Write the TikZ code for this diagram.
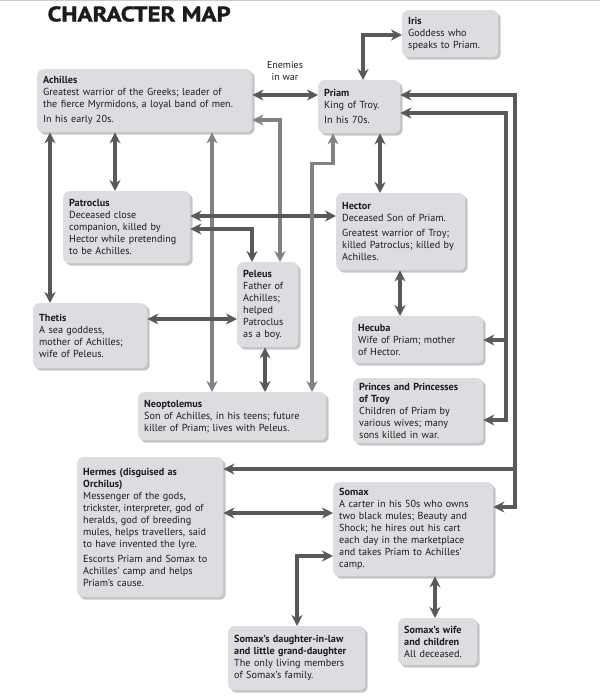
\documentclass[tikz,border=0pt]{standalone}
\usepackage{fontspec}
\setmainfont{PT Sans}
\newfontfamily\mapheadfont[FakeBold=1.5,FakeStretch=1.18]{PT Sans Bold}
\usepackage{tikz}
\usetikzlibrary{arrows.meta,shadows}
\usepackage{xcolor}
\definecolor{boxGray}{RGB}{220,221,224}
\definecolor{tieDark}{RGB}{88,89,91}
\definecolor{tieGray}{RGB}{128,130,133}
\definecolor{inkBlack}{RGB}{30,27,28}

\begin{document}
\begin{tikzpicture}[
  x=1pt,y=-1pt,
  every node/.style={text=inkBlack},
  character/.style={fill=boxGray,rounded corners=6pt,anchor=north west,align=left,
    inner xsep=6pt,inner ysep=3pt,font=\fontsize{10.2}{12}\selectfont,
    drop shadow={shadow xshift=2.5pt,shadow yshift=-2.5pt,fill=black!45}},
  mapTitle/.style={anchor=west,font=\mapheadfont\fontsize{21}{21}\selectfont},
  tieLine/.style={draw=tieDark,line width=4pt,>={Stealth[length=11pt,width=11pt,inset=3.5pt]}},
  tieLight/.style={tieLine,draw=tieGray,line width=3.5pt}]

  \useasboundingbox (0,0) rectangle (600,700);
  \fill[black!20] (0,0) rectangle (600,1.5);

  \node[mapTitle] (mapName) at (44,14) {CHARACTER MAP};

  % Position the characters
  \node[character,text width=203pt,minimum height=63pt] (achilles) at (37,69)
    {\textbf{Achilles}\\Greatest warrior of the Greeks; leader of\\the fierce Myrmidons, a loyal band of men.\\[3pt]In his early 20s.};
  \node[character,text width=84pt,minimum height=47pt] (iris) at (402,10)
    {\textbf{Iris}\\Goddess who\\speaks to Priam.};
  \node[character,text width=70pt,minimum height=53pt] (priam) at (318,80)
    {\textbf{Priam}\\King of Troy.\\[3pt]In his 70s.};
  \node[character,text width=115pt,minimum height=72pt] (patroclus) at (63,191)
    {\textbf{Patroclus}\\Deceased close\\companion, killed by\\Hector while pretending\\to be Achilles.};
  \node[character,text width=117pt,minimum height=77pt] (hector) at (336,193)
    {\textbf{Hector}\\Deceased Son of Priam.\\[3pt]Greatest warrior of Troy;\\killed Patroclus; killed by\\Achilles.};
  \node[character,text width=49pt,minimum height=85pt] (peleus) at (237,262)
    {\textbf{Peleus}\\Father of\\Achilles;\\helped\\Patroclus\\as a boy.};
  \node[character,text width=102pt,minimum height=65pt] (thetis) at (33,303)
    {\textbf{Thetis}\\A sea goddess,\\mother of Achilles;\\wife of Peleus.};
  \node[character,text width=119pt,minimum height=47pt] (hecuba) at (352,316)
    {\textbf{Hecuba}\\Wife of Priam; mother\\of Hector.};
  \node[character,text width=118pt,minimum height=65pt] (princes) at (353,378)
    {\textbf{Princes and Princesses}\\\textbf{of Troy}\\Children of Priam by\\various wives; many\\sons killed in war.};
  \node[character,text width=176pt,minimum height=48pt] (neoptolemus) at (138,392)
    {\textbf{Neoptolemus}\\Son of Achilles, in his teens; future\\killer of Priam; lives with Peleus.};
  \node[character,text width=134pt,minimum height=140pt] (hermes) at (77,457)
    {\textbf{Hermes (disguised as}\\\textbf{Orchilus)}\\Messenger of the gods,\\trickster, interpreter, god of\\heralds, god of breeding\\mules, helps travellers, said\\to have invented the lyre.\\[3pt]Escorts Priam and Somax to\\Achilles' camp and helps\\Priam's cause.};
  \node[character,text width=148pt,minimum height=94pt] (somax) at (333,482)
    {\textbf{Somax}\\A carter in his 50s who owns\\two black mules; Beauty and\\Shock; he hires out his cart\\each day in the marketplace\\and takes Priam to Achilles'\\camp.};
  \node[character,text width=125pt,minimum height=64pt] (daughter) at (228,626)
    {\textbf{Somax's daughter-in-law}\\\textbf{and little grand-daughter}\\The only living members\\of Somax's family.};
  \node[character,text width=67pt,minimum height=47pt] (wife) at (398,618)
    {\textbf{Somax's wife}\\\textbf{and children}\\All deceased.};

  \node[align=center,font=\fontsize{10}{12}\selectfont] (enemies) at (285,71) {Enemies\\in war};

  % where the long lines split
  \coordinate (houseTrunk) at (506,420);
  \coordinate (hecubaTap) at (506,340);
  \coordinate (envoyTrunk) at (515,507);
  \coordinate (hermesTap) at (515,469);

  % Achilles to the others
  \draw[tieLine,<->] (achilles.east |- 0,95) -- (priam.west |- 0,95);
  \draw[tieLine,<->] (achilles.south -| 115,0) -- (patroclus.north -| 115,0);
  \draw[tieLine,<->] (achilles.south -| 50,0) -- (thetis.north -| 50,0);
  \draw[tieLight,<->] (achilles.south -| 212,0) -- (neoptolemus.north -| 212,0);
  \draw[tieLight,<->] (achilles.east |- 0,120) -| (peleus.north -| 280,0);

  % Patroclus, Thetis, Peleus
  \draw[tieLine,<->] (patroclus.east |- 0,216) -- (hector.west |- 0,216);
  \draw[tieLine,<->] (patroclus.east |- 0,229) -| (peleus.north -| 252,0);
  \draw[tieLine,<->] (thetis.east |- 0,319) -- (peleus.west |- 0,319);
  \draw[tieLine,<->] (peleus.south -| 265,0) -- (neoptolemus.north -| 265,0);

  % Priam to the others
  \draw[tieLine,<->] (priam.north -| 363,0) |- (iris.west |- 0,35);
  \draw[tieLine,<->] (priam.south -| 380,0) -- (hector.north -| 380,0);
  \draw[tieLight,<->] (priam.south -| 333,0) -- ++(0,30) -| (neoptolemus.north -| 312,0);
  \draw[tieLine,<->] (hector.south -| 400,0) -- (hecuba.north -| 400,0);
  \draw[tieLine,<->] (priam.east |- 0,113) -| (houseTrunk) -- (princes.east |- houseTrunk);
  \draw[tieLine,->] (hecubaTap) -- (hecuba.east |- hecubaTap);
  \draw[tieLine,<->] (priam.east |- 0,95) -| (envoyTrunk) -- (somax.east |- envoyTrunk);
  \draw[tieLine,->] (hermesTap) -- (hermes.east |- hermesTap);

  % Somax
  \draw[tieLine,<->] (hermes.east |- 0,513) -- (somax.west |- 0,513);
  \draw[tieLine,<->] (somax.west |- 0,556) -| (daughter.north -| 297,0);
  \draw[tieLine,<->] (somax.south -| 435,0) -- (wife.north -| 435,0);
\end{tikzpicture}
\end{document}
